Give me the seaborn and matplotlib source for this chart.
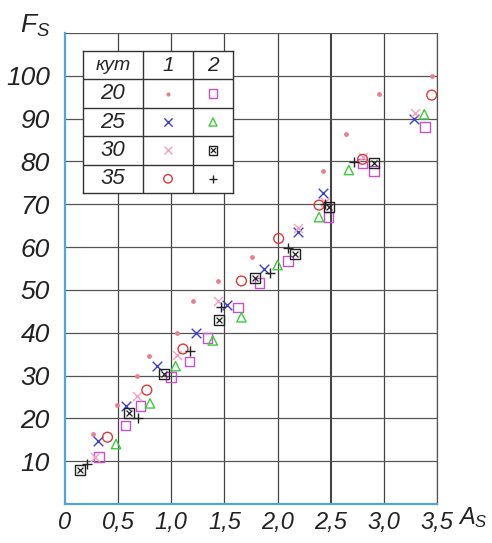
import matplotlib

matplotlib.use("Agg")
import matplotlib.pyplot as plt
import pandas as pd
import seaborn as sns

# Series: (angle "кут", column) -> points
ANGLES: list[str] = ["20", "25", "30", "35"]

x_20_1 = [0.26, 0.49, 0.68, 0.79, 1.05, 1.20, 1.44, 1.76, 2.43, 2.64, 2.95, 3.45]
y_20_1 = [16.3, 23.2, 30.0, 34.6, 40.0, 47.3, 52.0, 57.8, 77.8, 86.5, 95.7, 100.0]

x_20_2 = [0.32, 0.57, 0.71, 1.00, 1.17, 1.34, 1.63, 1.83, 2.10, 2.48, 2.80, 2.91, 3.39]
y_20_2 = [11.0, 18.3, 22.9, 29.6, 33.3, 38.7, 45.9, 51.6, 56.7, 67.0, 79.5, 77.8, 88.0]

x_25_1 = [0.31, 0.57, 0.87, 1.23, 1.52, 1.87, 2.19, 2.43, 3.28]
y_25_1 = [14.6, 22.9, 32.2, 40.0, 46.4, 55.0, 63.5, 72.7, 89.8]

x_25_2 = [0.48, 0.80, 1.04, 1.39, 1.66, 2.00, 2.39, 2.67, 3.38]
y_25_2 = [14.0, 23.5, 32.2, 38.2, 43.6, 55.8, 67.0, 78.0, 91.0]

x_30_1 = [0.28, 0.68, 1.05, 1.44, 2.19, 2.45, 2.80, 3.29]
y_30_1 = [11.0, 25.3, 34.7, 47.3, 64.4, 70.5, 81.0, 91.2]

x_30_2 = [0.14, 0.60, 0.93, 1.45, 1.79, 2.16, 2.48, 2.91]
y_30_2 = [8.0, 21.2, 30.4, 43.0, 52.8, 58.4, 69.3, 79.6]

x_35_1 = [0.40, 0.77, 1.11, 1.66, 2.01, 2.39, 2.80, 3.45]
y_35_1 = [15.6, 26.6, 36.2, 52.1, 62.0, 69.8, 80.5, 95.5]

x_35_2 = [0.21, 0.69, 1.18, 1.47, 1.93, 2.10, 2.45, 2.72]
y_35_2 = [9.3, 20.0, 35.8, 45.9, 54.0, 59.8, 70.0, 79.8]

X_TICKS = [0, 0.5, 1.0, 1.5, 2.0, 2.5, 3.0, 3.5]
X_LABELS = ["0", "0,5", "1,0", "1,5", "2,0", "2,5", "3,0", "3,5"]
Y_TICKS = [10, 20, 30, 40, 50, 60, 70, 80, 90, 100]

# marker styles: (marker, colour, size, filled)
STYLES = {
    ("20", 1): ("o", "#ea7f8f", 12, True),
    ("20", 2): ("s", "#c94fcf", 48, False),
    ("25", 1): ("x", "#3f3fcf", 48, True),
    ("25", 2): ("^", "#3ccc3c", 45, False),
    ("30", 1): ("x", "#f3a3bd", 42, True),
    ("30", 2): ("boxx", "#222222", 40, False),
    ("35", 1): ("o", "#dd3a3a", 50, False),
    ("35", 2): ("+", "#222222", 55, True),
}

SERIES = {
    ("20", 1): (x_20_1, y_20_1),
    ("20", 2): (x_20_2, y_20_2),
    ("25", 1): (x_25_1, y_25_1),
    ("25", 2): (x_25_2, y_25_2),
    ("30", 1): (x_30_1, y_30_1),
    ("30", 2): (x_30_2, y_30_2),
    ("35", 1): (x_35_1, y_35_1),
    ("35", 2): (x_35_2, y_35_2),
}

FONT = ["Liberation Sans", "DejaVu Sans"]


def build_frame() -> pd.DataFrame:
    frames = []
    for (angle, col), (xs, ys) in SERIES.items():
        frames.append(pd.DataFrame({"As": xs, "Fs": ys, "angle": angle, "col": col}))
    return pd.concat(frames, ignore_index=True)


def draw_marker(ax, data, marker, color, size, filled):
    if marker == "boxx":
        sns.scatterplot(data=data, x="As", y="Fs", ax=ax, marker="s", s=size * 1.3,
                        facecolor="none", edgecolor=color, linewidth=1.0, legend=False)
        sns.scatterplot(data=data, x="As", y="Fs", ax=ax, marker="x", s=size * 0.45,
                        color=color, linewidth=0.9, legend=False)
    elif marker in ("x", "+"):
        sns.scatterplot(data=data, x="As", y="Fs", ax=ax, marker=marker, s=size,
                        color=color, linewidth=1.0, legend=False)
    elif filled:
        sns.scatterplot(data=data, x="As", y="Fs", ax=ax, marker=marker, s=size,
                        color=color, edgecolor=color, linewidth=0, legend=False)
    else:
        sns.scatterplot(data=data, x="As", y="Fs", ax=ax, marker=marker, s=size,
                        facecolor="none", edgecolor=color, linewidth=1.0, legend=False)


def plot(df: pd.DataFrame) -> None:
    sns.set_style("white")
    plt.rcParams["font.family"] = FONT
    plt.rcParams["mathtext.fontset"] = "custom"
    plt.rcParams["mathtext.it"] = "Liberation Sans:italic"
    plt.rcParams["mathtext.rm"] = "Liberation Sans"

    fig = plt.figure(figsize=(4.92, 5.43), dpi=100)
    ax = fig.add_axes([65 / 492, 39 / 543, 372 / 492, 471 / 543])

    ax.set_xlim(0, 3.5)
    ax.set_ylim(0, 110)

    # grid
    for xv in X_TICKS[1:]:
        ax.axvline(xv, color="#444444", lw=1.5 if xv == 2.5 else 0.9, zorder=0)
    for yv in Y_TICKS + [110]:
        ax.axhline(yv, color="#555555", lw=0.9, zorder=0)

    for (angle, col), _ in SERIES.items():
        marker, color, size, filled = STYLES[(angle, col)]
        sub = df[(df["angle"] == angle) & (df["col"] == col)]
        draw_marker(ax, sub, marker, color, size, filled)

    # ticks
    ax.set_xticks(X_TICKS)
    ax.set_xticklabels(X_LABELS, fontsize=17, style="italic", color="#222222")
    ax.set_yticks(Y_TICKS)
    ax.set_yticklabels([str(v) for v in Y_TICKS], fontsize=19, style="italic",
                       color="#222222")
    ax.tick_params(axis="both", length=0)
    ax.tick_params(axis="x", pad=5)
    ax.tick_params(axis="y", pad=11)
    ax.set_xlabel("")
    ax.set_ylabel("")

    # spines
    for side in ["left", "bottom"]:
        ax.spines[side].set_color("#4da6e0")
        ax.spines[side].set_linewidth(1.6)
    ax.spines["right"].set_color("#555555")
    ax.spines["right"].set_linewidth(0.9)
    ax.spines["top"].set_visible(False)

    # axis names
    fig.text(0.04, 0.94, r"$F_S$", fontsize=19, color="#222222")
    fig.text(0.93, 0.035, r"$A_S$", fontsize=17, color="#222222")

    # legend table
    tab = fig.add_axes([83 / 492, 350 / 543, 150 / 492, 142 / 543])
    tab.set_xlim(0, 150)
    tab.set_ylim(0, 5)
    tab.set_facecolor("white")
    for s in tab.spines.values():
        s.set_color("#333333")
        s.set_linewidth(1.0)
    tab.set_xticks([])
    tab.set_yticks([])
    for xv in [60, 110]:
        tab.axvline(xv, color="#333333", lw=1.0)
    for yv in [1, 2, 3, 4]:
        tab.axhline(yv, color="#333333", lw=1.0)
    col_x = [30, 85, 130]
    tab.text(col_x[0], 4.5, "кут", ha="center", va="center", fontsize=14, style="italic")
    tab.text(col_x[1], 4.5, "1", ha="center", va="center", fontsize=15, style="italic")
    tab.text(col_x[2], 4.5, "2", ha="center", va="center", fontsize=15, style="italic")
    for i, angle in enumerate(ANGLES):
        yc = 3.5 - i
        tab.text(col_x[0], yc, angle, ha="center", va="center", fontsize=16, style="italic")
        for col in [1, 2]:
            marker, color, size, filled = STYLES[(angle, col)]
            key = pd.DataFrame({"As": [col_x[col]], "Fs": [yc]})
            draw_marker(tab, key, marker, color, size * 0.75, filled)
    tab.set_xlabel("")
    tab.set_ylabel("")

    fig.savefig("out.png", dpi=100)


def main() -> None:
    df = build_frame()
    plot(df)


if __name__ == "__main__":
    main()
